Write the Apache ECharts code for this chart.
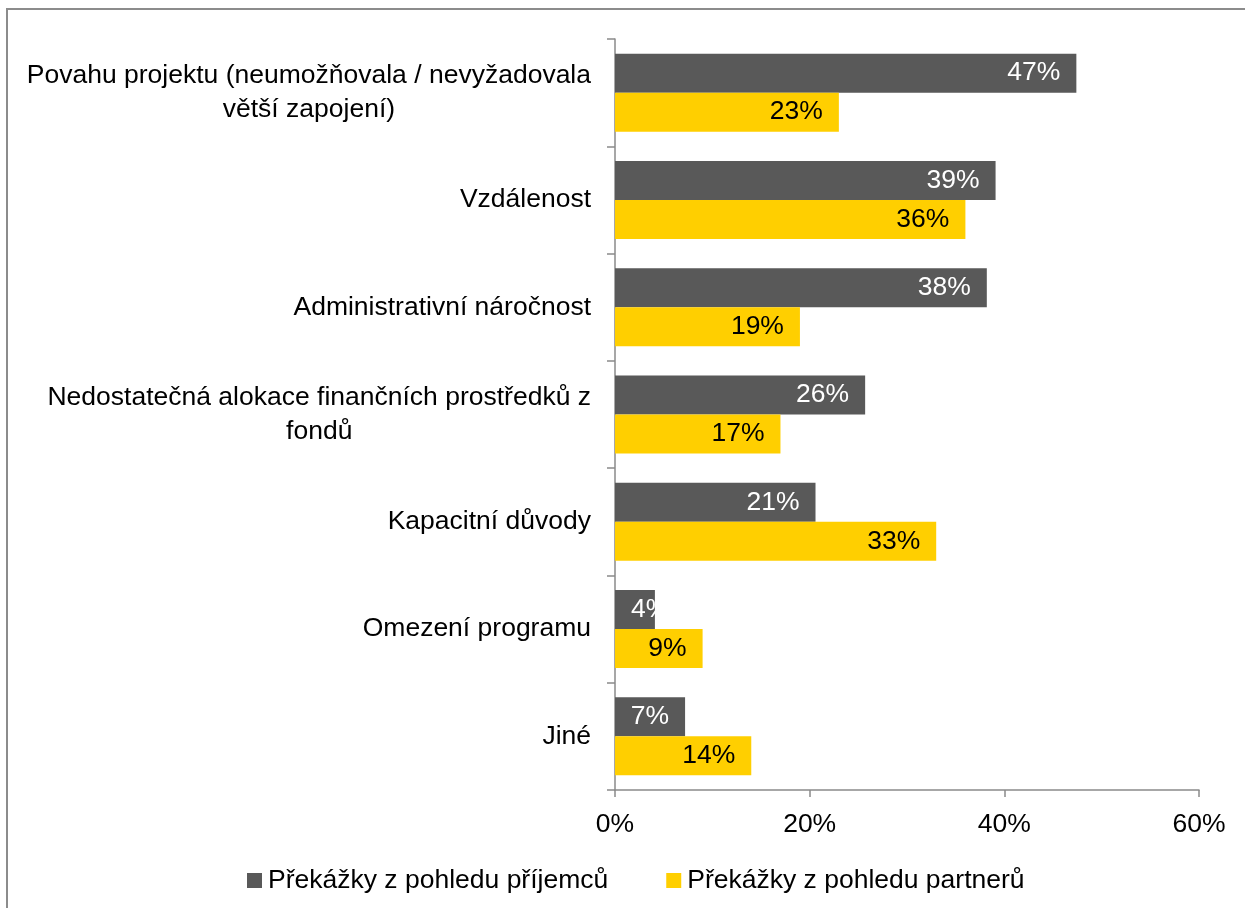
<!DOCTYPE html>
<html>
<head>
<meta charset="utf-8">
<script src="https://cdn.jsdelivr.net/npm/echarts@6/dist/echarts.min.js"></script>
<style>
html,body{margin:0;padding:0;background:#fff;}
#chart{width:1245px;height:908px;}
</style>
</head>
<body>
<div id="chart"></div>
<script>
const categories = [
  'Povahu projektu (neumožňovala / nevyžadovala\nvětší zapojení)',
  'Vzdálenost',
  'Administrativní náročnost',
  'Nedostatečná alokace finančních prostředků z\nfondů',
  'Kapacitní důvody',
  'Omezení programu',
  'Jiné'
];
const seriesNames = ['Překážky z pohledu příjemců', 'Překážky z pohledu partnerů'];
const recipients = [47.4, 39.1, 38.2, 25.7, 20.6, 4.1, 7.2];
const partners = [23.0, 36.0, 19.0, 17.0, 33.0, 9.0, 14.0];
const xTicks = { min: 0, max: 60, interval: 20 };

const FONT = '"Liberation Sans", Arial, sans-serif';
const FS = 26.5;
const GREY = '#595959';
const YELLOW = '#FFCF00';
const AXIS = '#8a8a8a';

// Short bars whose label does not fit are labelled from the bar start (as in the original).
function withLabelPlacement(values) {
  return values.map(function (v) {
    if (v < 5) {
      return { value: v, label: { position: 'insideLeft', distance: 16 } };
    }
    return v;
  });
}

const chart = echarts.init(document.getElementById('chart'));
chart.setOption({
  animation: false,
  backgroundColor: '#fff',
  graphic: [{
    type: 'rect',
    shape: { x: 7, y: 9, width: 1400, height: 1000 },
    style: { fill: 'none', stroke: '#8c8c8c', lineWidth: 2 },
    z: -10, silent: true
  }],
  grid: { left: 615, right: 46, top: 39, bottom: 118, containLabel: false },
  legend: {
    left: 242, top: 862,
    itemWidth: 15, itemHeight: 15, itemGap: 58,
    icon: 'rect',
    textStyle: { fontSize: FS, fontFamily: FONT, color: '#000', padding: [0, 0, 0, 1] },
    data: seriesNames
  },
  xAxis: {
    type: 'value',
    min: xTicks.min, max: xTicks.max, interval: xTicks.interval,
    axisLine: { show: true, lineStyle: { color: AXIS, width: 1.5 } },
    axisTick: { show: true, length: 7, lineStyle: { color: AXIS, width: 1.5 } },
    splitLine: { show: false },
    axisLabel: { formatter: '{value}%', fontSize: FS, fontFamily: FONT, color: '#000', margin: 21 }
  },
  yAxis: {
    type: 'category',
    inverse: true,
    data: categories,
    axisLine: { show: true, lineStyle: { color: AXIS, width: 1.5 } },
    axisTick: { show: true, length: 8, lineStyle: { color: AXIS, width: 1.5 } },
    axisLabel: {
      margin: 24,
      fontSize: FS, fontFamily: FONT, color: '#000', lineHeight: 34,
      formatter: function (v) {
        return v.split('\n').map(function (s) { return '{c|' + s + '}'; }).join('\n');
      },
      rich: { c: { align: 'center', fontSize: FS, fontFamily: FONT, color: '#000', lineHeight: 34 } }
    }
  },
  series: [
    {
      name: seriesNames[0], type: 'bar', data: withLabelPlacement(recipients),
      barWidth: 39, barGap: '0%',
      itemStyle: { color: GREY },
      label: {
        show: true, position: 'insideRight', distance: 16,
        formatter: function (p) { return Math.round(p.value) + '%'; },
        fontSize: FS, fontFamily: FONT, color: '#fff'
      }
    },
    {
      name: seriesNames[1], type: 'bar', data: withLabelPlacement(partners),
      barWidth: 39, barGap: '0%',
      itemStyle: { color: YELLOW },
      label: {
        show: true, position: 'insideRight', distance: 16,
        formatter: function (p) { return Math.round(p.value) + '%'; },
        fontSize: FS, fontFamily: FONT, color: '#000'
      }
    }
  ]
});
</script>
</body>
</html>
